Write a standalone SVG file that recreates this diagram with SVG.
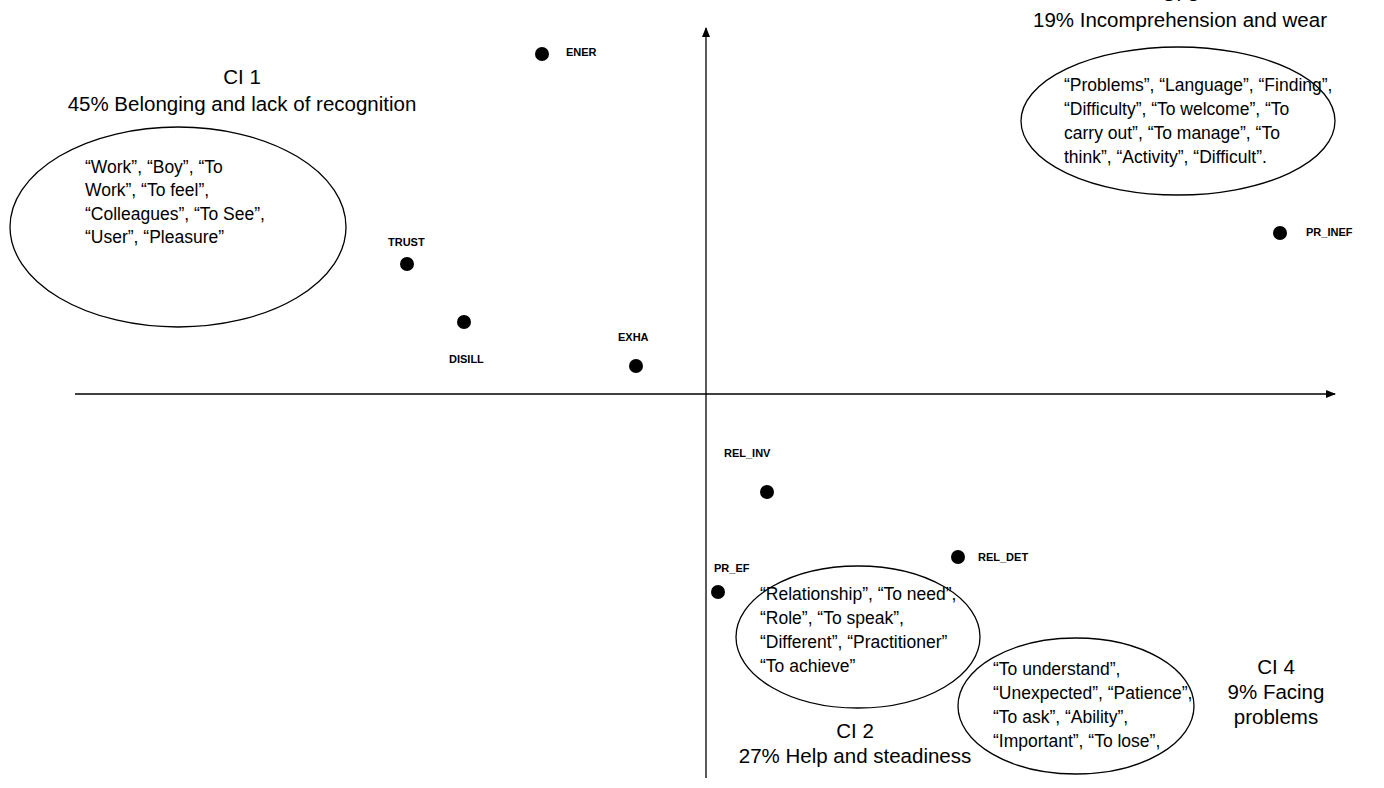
<svg xmlns="http://www.w3.org/2000/svg" width="1384" height="788" viewBox="0 0 1384 788">
<style>
text{font-family:"Liberation Sans",Arial,sans-serif;fill:#000}
.t{font-size:20.5px;text-anchor:middle}
.w{font-size:17.5px}
.l{font-size:11px;font-weight:bold}
ellipse{fill:none;stroke:#000;stroke-width:1.3}
circle{fill:#000}
</style>
<defs><marker id="a" markerWidth="10" markerHeight="8" refX="9" refY="4" orient="auto" markerUnits="userSpaceOnUse"><path d="M0,0 L10,4 L0,8 Z" fill="#000"/></marker></defs>
<rect width="1384" height="788" fill="#fff"/>
<g id="axes" stroke="#000" stroke-width="1.3">
<line x1="75" y1="394" x2="1335" y2="394" marker-end="url(#a)"/>
<line x1="706" y1="778" x2="706" y2="28" marker-end="url(#a)"/>
</g>
<g id="ci1"><ellipse cx="178" cy="227" rx="168" ry="100"/>
<text class="t" x="242" y="84">CI 1</text><text class="t" x="242" y="111">45% Belonging and lack of recognition</text>
<text class="w" x="85" y="173">“Work”, “Boy”, “To</text><text class="w" x="85" y="196">Work”, “To feel”,</text><text class="w" x="85" y="220">“Colleagues”, “To See”,</text><text class="w" x="85" y="243">“User”, “Pleasure”</text></g>
<g id="ci3"><ellipse cx="1178" cy="121" rx="157" ry="74"/>
<text class="t" x="1180" y="1">CI 3</text><text class="t" x="1180" y="27">19% Incomprehension and wear</text>
<text class="w" x="1064" y="91">“Problems”, “Language”, “Finding”,</text><text class="w" x="1064" y="115">“Difficulty”, “To welcome”, “To</text><text class="w" x="1064" y="139">carry out”, “To manage”, “To</text><text class="w" x="1064" y="163">think”, “Activity”, “Difficult”.</text></g>
<g id="ci2"><ellipse cx="858" cy="637" rx="122" ry="71"/>
<text class="t" x="855" y="738">CI 2</text><text class="t" x="855" y="763">27% Help and steadiness</text>
<text class="w" x="760" y="600">“Relationship”, “To need”,</text><text class="w" x="760" y="624">“Role”, “To speak”,</text><text class="w" x="760" y="648">“Different”, “Practitioner”</text><text class="w" x="760" y="672">“To achieve”</text></g>
<g id="ci4"><ellipse cx="1076" cy="706" rx="118" ry="68"/>
<text class="t" x="1276" y="674">CI 4</text><text class="t" x="1276" y="699">9% Facing</text><text class="t" x="1276" y="724">problems</text>
<text class="w" x="993" y="675">“To understand”,</text><text class="w" x="993" y="699">“Unexpected”, “Patience”,</text><text class="w" x="993" y="723">“To ask”, “Ability”,</text><text class="w" x="993" y="747">“Important”, “To lose”,</text></g>
<g id="points">
<circle cx="542" cy="54" r="7"/><text class="l" x="566" y="56">ENER</text>
<circle cx="407" cy="264" r="7"/><text class="l" x="388" y="246">TRUST</text>
<circle cx="464" cy="322" r="7"/><text class="l" x="449" y="363">DISILL</text>
<circle cx="636" cy="366" r="7"/><text class="l" x="618" y="341">EXHA</text>
<circle cx="1280" cy="233" r="7"/><text class="l" x="1306" y="236">PR_INEF</text>
<circle cx="767" cy="492" r="7"/><text class="l" x="724" y="457">REL_INV</text>
<circle cx="958" cy="557" r="7"/><text class="l" x="978" y="561">REL_DET</text>
<circle cx="718" cy="592" r="7"/><text class="l" x="714" y="572">PR_EF</text>
</g>
</svg>
